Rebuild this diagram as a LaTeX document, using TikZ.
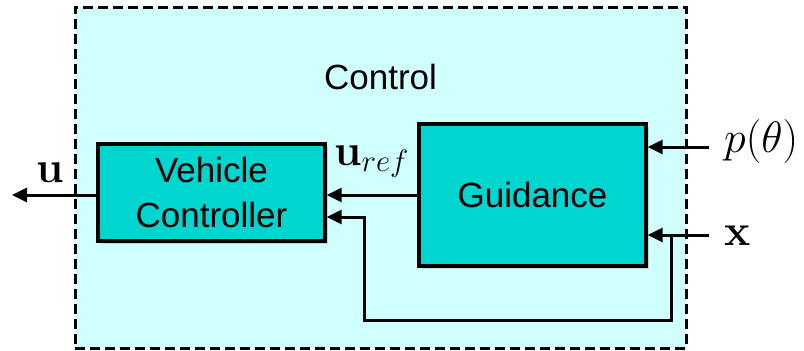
\RequirePackage{fix-cm}
\documentclass[tikz,border=0pt]{standalone}
\usepackage[no-math]{fontspec}
\setmainfont{Liberation Sans}
\usetikzlibrary{arrows.meta,shadows}
\definecolor{outerfill}{RGB}{208,255,255}
\definecolor{boxfill}{RGB}{0,213,208}
\begin{document}
\begin{tikzpicture}[x=1pt,y=-1pt,
  blk/.style={draw=black, line width=3.3pt, fill=boxfill,
    drop shadow={shadow xshift=3pt, shadow yshift=-3pt, opacity=0.3},
    align=center, font=\fontsize{35}{45}\selectfont, inner sep=0pt},
  wire/.style={line width=3pt},
  arr/.style={wire, -{Triangle[length=15pt,width=14pt]}},
  mlbl/.style={font=\fontsize{44}{52}\selectfont, inner sep=0pt, anchor=base west},
]
\useasboundingbox (0,0) rectangle (804,351);
\node[draw, dash pattern=on 10pt off 5pt, line width=3pt, fill=outerfill,
      minimum width=611pt, minimum height=341pt, inner sep=0pt] (ctrl) at (380.5,177.5) {};
\node[font=\fontsize{35}{42}\selectfont, anchor=base, inner sep=0pt] (ctrllbl) at (380.5,89) {Control};
\node[blk, minimum width=227pt, minimum height=97pt] (vc) at (211.5,192.5) {Vehicle\\Controller};
\node[blk, minimum width=227pt, minimum height=142pt] (gd) at (532.5,195) {Guidance};

\coordinate (uout) at (12,195);
\coordinate (pin) at (709,147);
\coordinate (xin) at (709,235);
\coordinate (fbsplit) at (671,235);
\coordinate (fbcorner) at (364,320);
\coordinate (fbin) at (325,217);

\draw[arr] (vc.west |- uout) -- (uout);
\draw[arr] (gd.west) -- (vc.east |- gd.west);
\draw[arr] (pin) -- (gd.east |- pin);
\draw[arr] (xin) -- (gd.east |- xin);
\draw[arr] (fbsplit) |- (fbcorner) |- (vc.east |- fbin);

\node[mlbl] (ulbl) at (36,182) {$\mathbf{u}$};
\node[mlbl] (ureflbl) at (334,165) {$\mathbf{u}_{ref}$};
\node[mlbl] (plbl) at (724,152.5) {$p(\theta)$};
\node[mlbl] (xlbl) at (724,245) {$\mathbf{x}$};
\end{tikzpicture}
\end{document}
